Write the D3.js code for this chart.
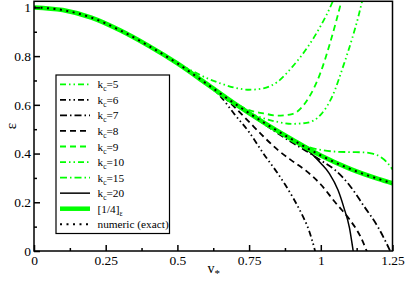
<!DOCTYPE html>
<html><head><meta charset="utf-8">
<script src="https://cdn.jsdelivr.net/npm/d3@7"></script>
<style>body{margin:0;background:#fff}svg{display:block}</style>
</head><body>
<script>
// ---- data (v*, epsilon) ----
const xTicks = [0, 0.25, 0.5, 0.75, 1, 1.25];
const xTickLabels = ["0", "0.25", "0.5", "0.75", "1", "1.25"];
const yTicks = [0, 0.2, 0.4, 0.6, 0.8, 1];
const yTickLabels = ["0", "0.2", "0.4", "0.6", "0.8", "1"];

const exact = [[0,1.000],[0.1,0.989],[0.2,0.958],[0.3,0.906],[0.4,0.842],[0.5,0.770],[0.6,0.688],[0.7,0.605],[0.8,0.528],[0.9,0.458],[1.0,0.392],[1.1,0.338],[1.2,0.296],[1.25,0.278]];
const pade14 = exact;
const k5 = [[0.45,0.806],[0.5,0.770],[0.55,0.740],[0.6,0.711],[0.65,0.688],[0.7,0.670],[0.75,0.662],[0.8,0.668],[0.85,0.695],[0.9,0.755],[0.95,0.83],[1.0,0.925],[1.04,1.02],[1.06,1.08]];
const k6 = [[0.5,0.770],[0.55,0.729],[0.6,0.686],[0.65,0.635],[0.7,0.56],[0.75,0.488],[0.8,0.40],[0.85,0.318],[0.9,0.225],[0.93,0.16],[0.96,0.08],[0.98,0.0],[0.99,-0.05]];
const k7 = [[0.6,0.688],[0.7,0.605],[0.8,0.523],[0.9,0.445],[0.95,0.41],[1.0,0.372],[1.05,0.332],[1.1,0.27],[1.15,0.185],[1.2,0.097],[1.24,0.005],[1.25,-0.02]];
const k8 = [[0.55,0.729],[0.6,0.688],[0.65,0.645],[0.7,0.59],[0.75,0.53],[0.8,0.47],[0.85,0.415],[0.9,0.37],[0.95,0.328],[1.0,0.273],[1.05,0.2],[1.1,0.13],[1.14,0.055],[1.16,0.0],[1.17,-0.03]];
const k9 = [[0.6,0.688],[0.65,0.648],[0.7,0.608],[0.75,0.578],[0.8,0.565],[0.85,0.556],[0.9,0.562],[0.95,0.615],[1.0,0.735],[1.03,0.845],[1.055,0.949],[1.075,1.04]];
const k10 = [[0.6,0.688],[0.65,0.647],[0.7,0.605],[0.75,0.568],[0.8,0.545],[0.85,0.53],[0.9,0.522],[0.95,0.526],[1.0,0.56],[1.04,0.635],[1.08,0.765],[1.11,0.875],[1.13,0.958],[1.145,1.03]];
const k15 = [[0.7,0.605],[0.75,0.565],[0.8,0.53],[0.85,0.49],[0.9,0.455],[0.95,0.43],[1.0,0.415],[1.05,0.408],[1.1,0.406],[1.15,0.405],[1.18,0.4],[1.21,0.385],[1.23,0.365],[1.25,0.335]];
const k20 = [[0.85,0.493],[0.9,0.458],[0.95,0.418],[1.0,0.36],[1.03,0.318],[1.06,0.25],[1.08,0.18],[1.1,0.095],[1.113,0.0],[1.12,-0.05]];

const legendLabels = ["5","6","7","8","9","10","15","20"];

const FONT = "'Liberation Serif'";
const W = 405, H = 281;
const svg = d3.select("body").append("svg").attr("width", W).attr("height", H)
  .attr("font-family", FONT);
const x = d3.scaleLinear().domain([0, 1.25]).range([34, 392.5]);
const y = d3.scaleLinear().domain([0, 1.025]).range([251, 1.3]);

const GREEN = "#00ff00";
const DDOT = "6,3,1.5,3,1.5,3", DDASH = "7,3,1.5,3", DASH = "6,4";

svg.append("clipPath").attr("id","clip").append("rect")
  .attr("x", x(0)).attr("y", y(1.025)).attr("width", x(1.25)-x(0)).attr("height", y(0)-y(1.025));

const line = d3.line().x(d => x(d[0])).y(d => y(d[1])).curve(d3.curveMonotoneX);
const g = svg.append("g").attr("clip-path","url(#clip)");

const series = [
  {data:k5, color:GREEN, dash:DDOT, w:1.8},
  {data:k6, color:"#000", dash:DDOT, w:1.8},
  {data:k7, color:"#000", dash:DDASH, w:1.8},
  {data:k8, color:"#000", dash:DASH, w:1.8},
  {data:k9, color:GREEN, dash:DASH, w:1.8},
  {data:k10, color:GREEN, dash:DDOT, w:1.8},
  {data:k15, color:GREEN, dash:DDASH, w:1.8},
  {data:k20, color:"#000", dash:null, w:1.5},
  {data:pade14, color:GREEN, dash:null, w:4.5},
  {data:exact, color:"#000", dash:"2,4.5", w:2}
];
series.forEach(s => {
  g.append("path").attr("d", line(s.data)).attr("fill","none")
    .attr("stroke", s.color).attr("stroke-width", s.w)
    .attr("stroke-dasharray", s.dash);
});

// axes (ticks inside)
const xAxis = d3.axisBottom(x).tickValues(xTicks).tickFormat((d,i)=>xTickLabels[i]).tickSizeInner(-6).tickSizeOuter(0).tickPadding(4);
const yAxis = d3.axisLeft(y).tickValues(yTicks).tickFormat((d,i)=>yTickLabels[i]).tickSizeInner(-6).tickSizeOuter(0).tickPadding(3);
const xMinor = d3.axisBottom(x).tickValues(d3.range(0.125, 1.25, 0.25)).tickFormat("").tickSizeInner(-3).tickSizeOuter(0);
const yMinor = d3.axisLeft(y).tickValues(d3.range(0.1, 1.0, 0.2)).tickFormat("").tickSizeInner(-3).tickSizeOuter(0);

function style(sel){
  sel.attr("font-family", FONT);
  sel.select(".domain").remove();
  sel.selectAll("line").attr("stroke","#000").attr("stroke-width",1.5);
  sel.selectAll("text").attr("fill","#000").attr("font-size", 13.5).attr("font-family", FONT);
}
svg.append("g").attr("transform",`translate(0,${y(0)})`).call(xAxis).call(style);
svg.append("g").attr("transform",`translate(${x(0)},0)`).call(yAxis).call(style);
svg.append("g").attr("transform",`translate(0,${y(0)})`).call(xMinor).call(style);
svg.append("g").attr("transform",`translate(${x(0)},0)`).call(yMinor).call(style);

// frame
svg.append("rect").attr("x", x(0)).attr("y", y(1.025)).attr("width", x(1.25)-x(0)).attr("height", y(0)-y(1.025))
  .attr("fill","none").attr("stroke","#000").attr("stroke-width",1.5);

// axis titles
const xl = svg.append("text").attr("x", 207.5).attr("y", 273).attr("font-size", 14).attr("font-family", FONT);
xl.append("tspan").text("v");
xl.append("tspan").attr("dy", 4).attr("font-size", 11).text("*");
svg.append("text").attr("transform","translate(15.5,126) rotate(-90)").attr("text-anchor","middle")
  .attr("font-size", 15).attr("font-family", FONT).text("ε");

// legend
const lg = svg.append("g");
lg.append("rect").attr("x",56).attr("y",75).attr("width",113.5).attr("height",158.5)
  .attr("fill","#fff").attr("stroke","#000").attr("stroke-width",1.2);
const labels = legendLabels.map(k => ({main:"k", sub:"c", rest:"="+k}));
labels.push({main:"[1/4]", sub:"ε", rest:""});
labels.push({main:"numeric (exact)", sub:"", rest:""});
labels.forEach((L,i) => {
  const yy = 84.3 + i*15.55;
  const s = series[i];
  lg.append("line").attr("x1",60).attr("x2",90).attr("y1",yy).attr("y2",yy)
    .attr("stroke", s.color).attr("stroke-width", s.w).attr("stroke-dasharray", s.dash);
  const t = lg.append("text").attr("x",97.5).attr("y",yy+4).attr("font-size", 11.3).attr("font-family", FONT);
  t.append("tspan").text(L.main);
  if (L.sub) t.append("tspan").attr("dy",3).attr("font-size", 7.5).text(L.sub);
  if (L.rest) t.append("tspan").attr("dy",-3).text(L.rest);
});
</script>
</body></html>
